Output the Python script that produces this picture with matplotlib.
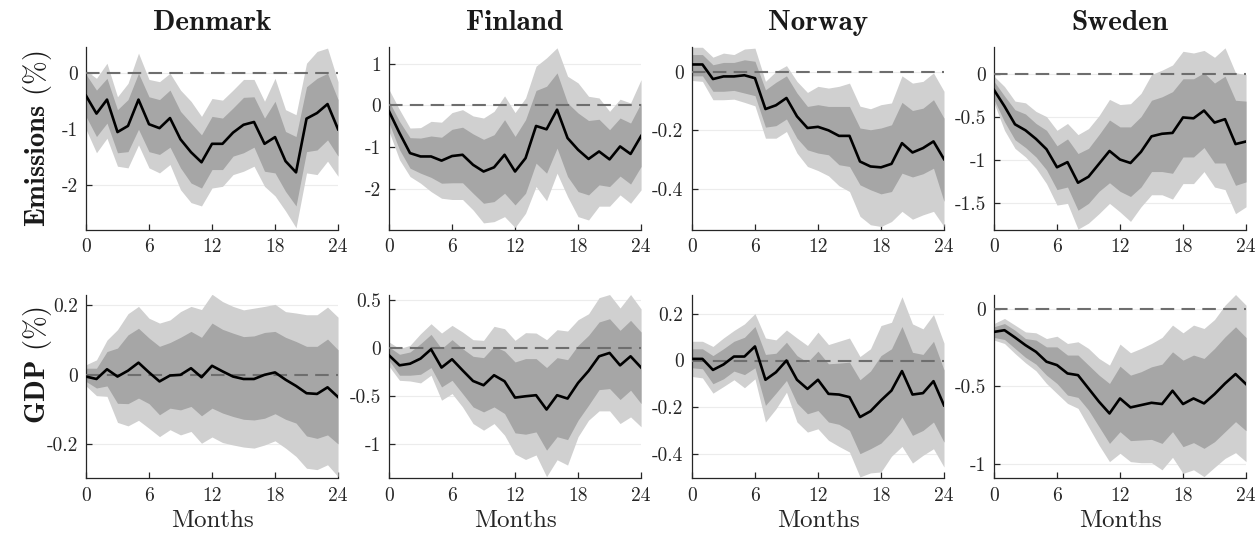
import numpy as np
import matplotlib.pyplot as plt
from matplotlib.ticker import FixedLocator, FuncFormatter

plt.rcParams['font.family'] = 'cmr10'
plt.rcParams['mathtext.fontset'] = 'cm'
plt.rcParams['axes.unicode_minus'] = False

months = np.arange(25)
countries = ['Denmark', 'Finland', 'Norway', 'Sweden']
variables = ['Emissions', 'GDP']

# --- Emissions responses (%): median, 68% and 90% bands ---
dk_em_med = [-0.40, -0.72, -0.47, -1.05, -0.94, -0.47, -0.91, -0.98, -0.80, -1.18, -1.41, -1.59, -1.26,
             -1.26, -1.06, -0.92, -0.87, -1.26, -1.14, -1.57, -1.77, -0.81, -0.71, -0.55, -1.00]
dk_em_hi90 = [0.05, -0.09, 0.18, -0.42, -0.18, 0.36, -0.11, -0.15, 0.00, -0.30, -0.50, -0.77, -0.45,
              -0.48, -0.30, -0.11, -0.11, -0.50, -0.09, -0.65, -0.74, 0.18, 0.39, 0.45, -0.15]
dk_em_hi68 = [-0.02, -0.30, -0.09, -0.65, -0.47, 0.00, -0.42, -0.47, -0.30, -0.68, -0.89, -1.10, -0.77,
              -0.80, -0.62, -0.43, -0.42, -0.80, -0.50, -1.04, -1.13, -0.24, -0.09, 0.00, -0.47]
dk_em_lo68 = [-0.77, -1.13, -0.89, -1.42, -1.40, -1.00, -1.40, -1.45, -1.32, -1.69, -1.96, -2.05, -1.72,
              -1.72, -1.48, -1.42, -1.32, -1.75, -1.78, -2.11, -2.37, -1.40, -1.37, -1.19, -1.48]
dk_em_lo90 = [-1.00, -1.42, -1.16, -1.66, -1.69, -1.28, -1.69, -1.78, -1.63, -2.08, -2.31, -2.37, -2.05,
              -2.02, -1.81, -1.75, -1.66, -2.02, -2.19, -2.46, -2.76, -1.78, -1.81, -1.57, -1.84]

fi_em_med = [-0.14, -0.66, -1.14, -1.22, -1.22, -1.32, -1.21, -1.18, -1.42, -1.58, -1.48, -1.18, -1.58,
             -1.26, -0.49, -0.57, -0.10, -0.78, -1.06, -1.28, -1.10, -1.29, -0.98, -1.16, -0.73]
fi_em_hi90 = [0.38, -0.10, -0.54, -0.53, -0.38, -0.40, -0.17, -0.10, -0.25, -0.30, -0.14, 0.23, -0.17,
              0.18, 0.94, 1.14, 1.38, 0.70, 0.54, 0.22, 0.18, -0.14, 0.15, 0.06, 0.62]
fi_em_hi68 = [0.10, -0.38, -0.77, -0.78, -0.73, -0.76, -0.57, -0.52, -0.68, -0.81, -0.70, -0.34, -0.74,
              -0.34, 0.36, 0.46, 0.78, 0.06, -0.18, -0.36, -0.33, -0.58, -0.30, -0.42, 0.06]
fi_em_lo68 = [-0.42, -1.06, -1.50, -1.62, -1.72, -1.86, -1.85, -1.85, -2.10, -2.34, -2.30, -2.10, -2.38,
              -2.10, -1.38, -1.62, -1.02, -1.70, -2.06, -2.14, -1.90, -1.94, -1.69, -1.88, -1.46]
fi_em_lo90 = [-0.62, -1.30, -1.70, -1.86, -2.06, -2.22, -2.25, -2.25, -2.50, -2.81, -2.78, -2.66, -2.92,
              -2.58, -1.94, -2.28, -1.62, -2.18, -2.66, -2.74, -2.41, -2.41, -2.14, -2.34, -2.02]

no_em_med = [0.026, 0.026, -0.024, -0.015, -0.015, -0.011, -0.021, -0.127, -0.114, -0.089, -0.152, -0.192,
             -0.188, -0.200, -0.219, -0.219, -0.307, -0.324, -0.327, -0.315, -0.244, -0.276, -0.261,
             -0.238, -0.299]
no_em_hi90 = [0.085, 0.085, 0.051, 0.065, 0.060, 0.079, 0.082, -0.032, 0.002, 0.022, -0.032, -0.070,
              -0.049, -0.055, -0.049, -0.038, -0.117, -0.126, -0.112, -0.106, -0.013, -0.038, -0.032,
              -0.003, -0.066]
no_em_hi68 = [0.060, 0.060, 0.025, 0.033, 0.033, 0.042, 0.037, -0.061, -0.035, -0.013, -0.072, -0.118,
              -0.112, -0.118, -0.118, -0.118, -0.192, -0.198, -0.192, -0.181, -0.104, -0.132, -0.124,
              -0.095, -0.158]
no_em_lo68 = [-0.013, -0.013, -0.066, -0.066, -0.063, -0.072, -0.081, -0.189, -0.184, -0.161, -0.227,
              -0.267, -0.278, -0.284, -0.318, -0.324, -0.387, -0.404, -0.418, -0.410, -0.347, -0.360,
              -0.349, -0.330, -0.444]
no_em_lo90 = [-0.029, -0.032, -0.095, -0.095, -0.093, -0.104, -0.116, -0.227, -0.227, -0.204, -0.278,
              -0.324, -0.338, -0.356, -0.390, -0.410, -0.495, -0.524, -0.530, -0.513, -0.478, -0.505,
              -0.490, -0.478, -0.530]

se_em_med = [-0.18, -0.37, -0.58, -0.65, -0.75, -0.87, -1.08, -1.02, -1.26, -1.19, -1.04, -0.89, -0.99,
             -1.03, -0.90, -0.72, -0.69, -0.68, -0.50, -0.51, -0.42, -0.56, -0.52, -0.81, -0.78]
se_em_hi90 = [-0.02, -0.14, -0.31, -0.33, -0.43, -0.49, -0.65, -0.57, -0.70, -0.63, -0.48, -0.29, -0.35,
              -0.34, -0.22, 0.00, 0.05, 0.11, 0.27, 0.25, 0.28, 0.20, 0.31, 0.02, 0.00]
se_em_hi68 = [-0.08, -0.25, -0.41, -0.46, -0.57, -0.65, -0.83, -0.75, -0.92, -0.86, -0.70, -0.53, -0.61,
              -0.61, -0.49, -0.30, -0.26, -0.20, -0.05, -0.05, 0.02, -0.10, -0.02, -0.30, -0.31]
se_em_lo68 = [-0.29, -0.55, -0.76, -0.85, -0.96, -1.11, -1.34, -1.31, -1.58, -1.50, -1.36, -1.26, -1.36,
              -1.42, -1.31, -1.13, -1.13, -1.15, -0.96, -0.96, -0.85, -1.03, -1.03, -1.29, -1.25]
se_em_lo90 = [-0.33, -0.65, -0.86, -0.96, -1.09, -1.27, -1.52, -1.50, -1.80, -1.73, -1.62, -1.50, -1.60,
              -1.71, -1.54, -1.40, -1.40, -1.45, -1.27, -1.27, -1.13, -1.31, -1.34, -1.62, -1.54]

# --- GDP responses (%) ---
dk_gdp_med = [-0.005, -0.012, 0.016, -0.005, 0.012, 0.035, 0.007, -0.019, -0.002, 0.000, 0.019, -0.007,
              0.026, 0.010, -0.005, -0.012, -0.012, 0.000, 0.007, -0.014, -0.032, -0.053, -0.055,
              -0.036, -0.064]
dk_gdp_hi90 = [0.029, 0.043, 0.100, 0.130, 0.176, 0.197, 0.163, 0.149, 0.158, 0.182, 0.197, 0.188, 0.232,
               0.211, 0.197, 0.187, 0.192, 0.197, 0.203, 0.182, 0.178, 0.173, 0.173, 0.195, 0.166]
dk_gdp_hi68 = [0.019, 0.019, 0.067, 0.077, 0.115, 0.134, 0.106, 0.082, 0.093, 0.108, 0.125, 0.108, 0.149,
               0.131, 0.120, 0.110, 0.112, 0.122, 0.125, 0.108, 0.096, 0.082, 0.082, 0.103, 0.072]
dk_gdp_lo68 = [-0.019, -0.038, -0.032, -0.082, -0.083, -0.067, -0.083, -0.115, -0.096, -0.101, -0.091,
               -0.118, -0.096, -0.110, -0.120, -0.128, -0.130, -0.125, -0.112, -0.128, -0.139, -0.176,
               -0.183, -0.173, -0.199]
dk_gdp_lo90 = [-0.032, -0.060, -0.062, -0.137, -0.147, -0.131, -0.154, -0.178, -0.158, -0.173, -0.163,
               -0.197, -0.179, -0.195, -0.202, -0.208, -0.211, -0.202, -0.190, -0.211, -0.235, -0.269,
               -0.273, -0.259, -0.293]

fi_gdp_med = [-0.073, -0.177, -0.160, -0.107, -0.010, -0.200, -0.114, -0.229, -0.340, -0.384, -0.280,
              -0.343, -0.513, -0.499, -0.488, -0.637, -0.488, -0.523, -0.360, -0.235, -0.083, -0.048,
              -0.177, -0.083, -0.200]
fi_gdp_hi90 = [0.066, -0.003, 0.031, 0.152, 0.256, 0.159, 0.239, 0.170, 0.090, 0.083, 0.229, 0.204,
               0.083, 0.163, 0.159, 0.090, 0.194, 0.180, 0.298, 0.360, 0.527, 0.560, 0.420, 0.560, 0.410]
fi_gdp_hi68 = [0.014, -0.062, -0.038, 0.048, 0.145, -0.003, 0.090, -0.003, -0.083, -0.097, 0.021, -0.028,
               -0.142, -0.107, -0.107, -0.200, -0.097, -0.118, 0.031, 0.135, 0.274, 0.308, 0.187, 0.291,
               0.170]
fi_gdp_lo68 = [-0.125, -0.280, -0.280, -0.270, -0.200, -0.402, -0.333, -0.471, -0.610, -0.662, -0.610,
               -0.679, -0.880, -0.894, -0.870, -1.060, -0.920, -0.950, -0.748, -0.592, -0.430, -0.419,
               -0.533, -0.436, -0.575]
fi_gdp_lo90 = [-0.187, -0.333, -0.340, -0.360, -0.280, -0.540, -0.471, -0.610, -0.783, -0.852, -0.783,
               -0.904, -1.100, -1.157, -1.110, -1.336, -1.160, -1.215, -0.920, -0.748, -0.651, -0.651,
               -0.783, -0.714, -0.817]

no_gdp_med = [0.007, 0.007, -0.040, -0.017, 0.017, 0.017, 0.060, -0.082, -0.050, 0.000, -0.082, -0.121,
              -0.082, -0.142, -0.145, -0.156, -0.241, -0.216, -0.170, -0.128, -0.045, -0.145, -0.139,
              -0.088, -0.191]
no_gdp_hi90 = [0.082, 0.082, 0.060, 0.096, 0.128, 0.156, 0.200, 0.096, 0.088, 0.130, 0.096, 0.064, 0.121,
               0.068, 0.082, 0.096, 0.017, 0.050, 0.149, 0.163, 0.272, 0.156, 0.135, 0.196, 0.074]
no_gdp_hi68 = [0.050, 0.050, 0.021, 0.050, 0.082, 0.099, 0.145, 0.026, 0.031, 0.078, 0.021, -0.007, 0.040,
               -0.014, -0.011, -0.007, -0.082, -0.045, 0.021, 0.050, 0.145, 0.035, 0.026, 0.082, -0.040]
no_gdp_lo68 = [-0.031, -0.035, -0.099, -0.078, -0.045, -0.060, -0.031, -0.191, -0.139, -0.085, -0.182,
               -0.227, -0.213, -0.262, -0.272, -0.298, -0.397, -0.376, -0.352, -0.305, -0.241, -0.319,
               -0.298, -0.262, -0.348]
no_gdp_lo90 = [-0.068, -0.074, -0.139, -0.111, -0.082, -0.116, -0.078, -0.262, -0.206, -0.135, -0.262,
               -0.305, -0.291, -0.340, -0.366, -0.390, -0.496, -0.479, -0.475, -0.408, -0.366, -0.437,
               -0.404, -0.376, -0.454]

se_gdp_med = [-0.147, -0.136, -0.183, -0.233, -0.276, -0.340, -0.362, -0.416, -0.427, -0.513, -0.599,
              -0.675, -0.578, -0.636, -0.621, -0.606, -0.614, -0.528, -0.614, -0.578, -0.610, -0.550,
              -0.481, -0.420, -0.485]
se_gdp_hi90 = [-0.093, -0.060, -0.103, -0.147, -0.153, -0.190, -0.175, -0.222, -0.211, -0.254, -0.319,
               -0.362, -0.226, -0.282, -0.254, -0.222, -0.183, -0.103, -0.153, -0.103, -0.125, -0.067,
               0.026, 0.095, 0.026]
se_gdp_hi68 = [-0.114, -0.093, -0.136, -0.190, -0.200, -0.244, -0.244, -0.297, -0.297, -0.362, -0.427,
               -0.481, -0.369, -0.427, -0.405, -0.373, -0.356, -0.276, -0.330, -0.297, -0.319, -0.254,
               -0.179, -0.114, -0.183]
se_gdp_lo68 = [-0.183, -0.196, -0.254, -0.312, -0.356, -0.427, -0.481, -0.556, -0.571, -0.653, -0.761,
               -0.869, -0.793, -0.851, -0.847, -0.843, -0.869, -0.793, -0.890, -0.864, -0.901, -0.858,
               -0.793, -0.728, -0.787]
se_gdp_lo90 = [-0.200, -0.222, -0.287, -0.347, -0.399, -0.481, -0.546, -0.610, -0.642, -0.761, -0.880,
               -0.987, -0.933, -0.987, -0.994, -0.994, -1.040, -0.959, -1.063, -1.040, -1.084, -1.024,
               -0.966, -0.929, -0.987]

irf = {
    ('Emissions', 'Denmark'): (dk_em_lo90, dk_em_lo68, dk_em_med, dk_em_hi68, dk_em_hi90),
    ('Emissions', 'Finland'): (fi_em_lo90, fi_em_lo68, fi_em_med, fi_em_hi68, fi_em_hi90),
    ('Emissions', 'Norway'): (no_em_lo90, no_em_lo68, no_em_med, no_em_hi68, no_em_hi90),
    ('Emissions', 'Sweden'): (se_em_lo90, se_em_lo68, se_em_med, se_em_hi68, se_em_hi90),
    ('GDP', 'Denmark'): (dk_gdp_lo90, dk_gdp_lo68, dk_gdp_med, dk_gdp_hi68, dk_gdp_hi90),
    ('GDP', 'Finland'): (fi_gdp_lo90, fi_gdp_lo68, fi_gdp_med, fi_gdp_hi68, fi_gdp_hi90),
    ('GDP', 'Norway'): (no_gdp_lo90, no_gdp_lo68, no_gdp_med, no_gdp_hi68, no_gdp_hi90),
    ('GDP', 'Sweden'): (se_gdp_lo90, se_gdp_lo68, se_gdp_med, se_gdp_hi68, se_gdp_hi90),
}

# axis ranges and y ticks per panel
ylims = {
    ('Emissions', 'Denmark'): (-2.8, 0.47), ('Emissions', 'Finland'): (-2.98, 1.4),
    ('Emissions', 'Norway'): (-0.542, 0.086), ('Emissions', 'Sweden'): (-1.81, 0.32),
    ('GDP', 'Denmark'): (-0.298, 0.229), ('GDP', 'Finland'): (-1.353, 0.552),
    ('GDP', 'Norway'): (-0.502, 0.278), ('GDP', 'Sweden'): (-1.095, 0.09),
}
yticks = {
    ('Emissions', 'Denmark'): [-2, -1, 0], ('Emissions', 'Finland'): [-2, -1, 0, 1],
    ('Emissions', 'Norway'): [-0.4, -0.2, 0], ('Emissions', 'Sweden'): [-1.5, -1, -0.5, 0],
    ('GDP', 'Denmark'): [-0.2, 0, 0.2], ('GDP', 'Finland'): [-1, -0.5, 0, 0.5],
    ('GDP', 'Norway'): [-0.4, -0.2, 0, 0.2], ('GDP', 'Sweden'): [-1, -0.5, 0],
}

fig = plt.figure(figsize=(12.59, 5.37), dpi=100)
lefts = [0.0683, 0.309, 0.5496, 0.7895]
bottoms = [0.5717, 0.1093]
w, h = 0.2002, 0.3408

for r, var in enumerate(variables):
    for c, ctry in enumerate(countries):
        ax = fig.add_axes([lefts[c], bottoms[r], w, h])
        lo90, lo68, med, hi68, hi90 = irf[(var, ctry)]
        ax.fill_between(months, lo90, hi90, color='#d0d0d0', lw=0, zorder=1)
        ax.fill_between(months, lo68, hi68, color='#a6a6a6', lw=0, zorder=2)
        ax.plot([0, 24], [0, 0], color='#6e6e6e', lw=1.5, dashes=(6.5, 3.5), zorder=3)
        ax.plot(months, med, color='black', lw=1.9, zorder=4)

        ax.set_xlim(0, 24)
        ax.set_ylim(*ylims[(var, ctry)])
        ax.xaxis.set_major_locator(FixedLocator([0, 6, 12, 18, 24]))
        ax.yaxis.set_major_locator(FixedLocator(yticks[(var, ctry)]))
        ax.yaxis.set_major_formatter(FuncFormatter(lambda v, p: f'{v:g}'))
        ax.grid(axis='y', color='#ececec', lw=0.8, zorder=0)
        ax.set_axisbelow(True)
        for side in ['top', 'right']:
            ax.spines[side].set_visible(False)
        for side in ['left', 'bottom']:
            ax.spines[side].set_color('#262626')
            ax.spines[side].set_linewidth(0.9)
        ax.tick_params(direction='in', length=4, width=0.9, color='#262626',
                       labelsize=14, pad=6, labelcolor='#262626')

        if r == 0:
            ax.set_title(ctry, fontfamily='cmb10', fontsize=21, pad=12, color='#1a1a1a')
        else:
            ax.set_xlabel('Months', fontsize=18, color='#262626', labelpad=4)
        if c == 0:
            ax.set_ylabel(r'$\mathbf{%s}$ (%%)' % var, fontsize=20.5, color='#1a1a1a')
            ax.yaxis.set_label_coords(-0.128, 0.5 if r == 0 else 0.62)

fig.savefig('out.png', dpi=100)
